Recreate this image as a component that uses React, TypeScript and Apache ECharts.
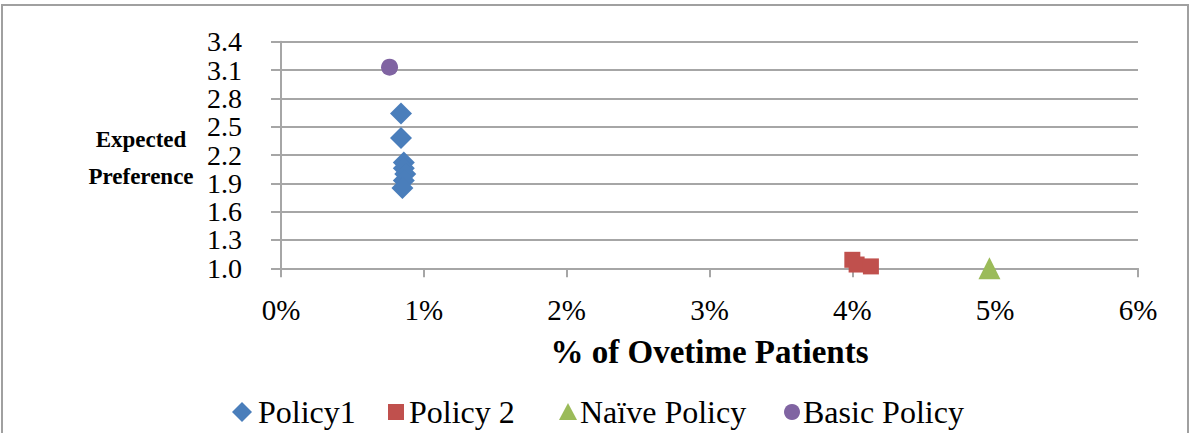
import React, { useEffect, useRef } from "react";
import * as echarts from "echarts";

// Percent of overtime patients (x) and expected preference (y) per policy
const policy1X = [0.84, 0.84, 0.86, 0.86, 0.87, 0.86, 0.85];
const policy1Y = [2.64, 2.38, 2.12, 2.06, 2.0, 1.93, 1.85];
const policy2X = [4.0, 4.03, 4.13];
const policy2Y = [1.09, 1.04, 1.02];
const naiveX = [4.96];
const naiveY = [1.0];
const basicX = [0.76];
const basicY = [3.13];

const seriesNames = ["Policy1", "Policy 2", "Naïve Policy", "Basic Policy"];
const seriesColors = ["#4a7ebb", "#c0504d", "#9bbb59", "#8064a2"];
const yTickLabels = ["1.0", "1.3", "1.6", "1.9", "2.2", "2.5", "2.8", "3.1", "3.4"];
const xTickLabels = ["0%", "1%", "2%", "3%", "4%", "5%", "6%"];

// The value axis starts at 1.0; the series are plotted relative to that base
const Y_BASE = 1.0;
const FONT = "Liberation Serif";

const pairs = (xs: number[], ys: number[]) => xs.map((x, i) => [x, ys[i] - Y_BASE]);

// Legend row along the bottom: marker centre x and label start x for each entry
const LEGEND_Y = 412;
const legendMarkerX = [242, 396, 568, 792];
const legendTextX = [258, 409, 580, 803];

function legendMarker(i: number) {
  const cx = legendMarkerX[i];
  const cy = LEGEND_Y;
  const style = { fill: seriesColors[i] };
  if (i === 0) {
    const h = 10;
    return { type: "polygon", shape: { points: [[cx, cy - h], [cx + h, cy], [cx, cy + h], [cx - h, cy]] }, style };
  }
  if (i === 1) {
    return { type: "rect", shape: { x: cx - 8, y: cy - 8, width: 16, height: 16 }, style };
  }
  if (i === 2) {
    return { type: "polygon", shape: { points: [[cx, cy - 9], [cx + 9, cy + 8], [cx - 9, cy + 8]] }, style };
  }
  return { type: "circle", shape: { cx, cy, r: 8 }, style };
}

export default function App() {
  const ref = useRef<HTMLDivElement>(null);

  useEffect(() => {
    if (!ref.current) return;
    const chart = echarts.init(ref.current, undefined, { renderer: "svg" });
    const gridColor = "#a6a6a6";

    const legendGraphics = seriesNames.flatMap((name, i) => [
      legendMarker(i),
      {
        type: "text",
        x: legendTextX[i],
        y: LEGEND_Y,
        style: {
          text: name,
          fontFamily: FONT,
          fontSize: 32,
          fill: "#000",
          align: "left",
          verticalAlign: "middle",
        },
      },
    ]);

    const markerStyle = (i: number) => ({ color: seriesColors[i], opacity: 1 });

    chart.setOption({
      animation: false,
      backgroundColor: "#ffffff",
      textStyle: { fontFamily: FONT, color: "#000" },
      grid: { left: 281, right: 62, top: 41.7, bottom: 164.7, containLabel: false },
      xAxis: {
        type: "value",
        min: 0,
        max: 6,
        interval: 1,
        name: "% of Ovetime Patients",
        nameLocation: "middle",
        nameGap: 67,
        nameTextStyle: { fontFamily: FONT, fontWeight: "bold", fontSize: 33, color: "#000" },
        axisLine: { show: true, lineStyle: { color: gridColor, width: 2 } },
        axisTick: { show: true, length: 9, lineStyle: { color: gridColor, width: 2 } },
        axisLabel: {
          margin: 27,
          fontFamily: FONT,
          fontSize: 29,
          color: "#000",
          showMinLabel: true,
          showMaxLabel: true,
          formatter: (v: number) => xTickLabels[Math.round(v)] ?? "",
        },
        splitLine: { show: false },
      },
      yAxis: {
        type: "value",
        min: 0,
        max: 2.4,
        interval: 0.3,
        axisLine: { show: true, lineStyle: { color: gridColor, width: 2 } },
        axisTick: { show: true, length: 10, lineStyle: { color: gridColor, width: 2 } },
        axisLabel: {
          margin: 39,
          fontFamily: FONT,
          fontSize: 28,
          lineHeight: 26,
          color: "#000",
          showMinLabel: true,
          showMaxLabel: true,
          hideOverlap: false,
          formatter: (v: number) => yTickLabels[Math.round(v / 0.3)] ?? "",
        },
        splitLine: { show: true, lineStyle: { color: gridColor, width: 2 } },
      },
      graphic: [
        {
          type: "rect",
          shape: { x: 2, y: 5, width: 1186, height: 440 },
          style: { fill: "none", stroke: "#a0a0a0", lineWidth: 2 },
          z: -1,
          silent: true,
        },
        {
          type: "text",
          x: 141,
          y: 158,
          style: {
            text: "Expected\nPreference",
            fontFamily: FONT,
            fontWeight: "bold",
            fontSize: 23,
            lineHeight: 37,
            fill: "#000",
            align: "center",
            verticalAlign: "middle",
          },
        },
        ...legendGraphics,
      ],
      series: [
        {
          name: seriesNames[0],
          type: "scatter",
          symbol: "diamond",
          symbolSize: 22,
          itemStyle: markerStyle(0),
          data: pairs(policy1X, policy1Y),
        },
        {
          name: seriesNames[1],
          type: "scatter",
          symbol: "rect",
          symbolSize: 16,
          itemStyle: markerStyle(1),
          data: pairs(policy2X, policy2Y),
        },
        {
          name: seriesNames[2],
          type: "scatter",
          symbol: "triangle",
          symbolSize: 22,
          itemStyle: markerStyle(2),
          data: pairs(naiveX, naiveY),
        },
        {
          name: seriesNames[3],
          type: "scatter",
          symbol: "circle",
          symbolSize: 17,
          itemStyle: markerStyle(3),
          data: pairs(basicX, basicY),
        },
      ],
    });

    return () => chart.dispose();
  }, []);

  return (
    <div
      ref={ref}
      style={{ position: "fixed", left: 0, top: 0, width: 1200, height: 433, background: "#fff" }}
    />
  );
}
